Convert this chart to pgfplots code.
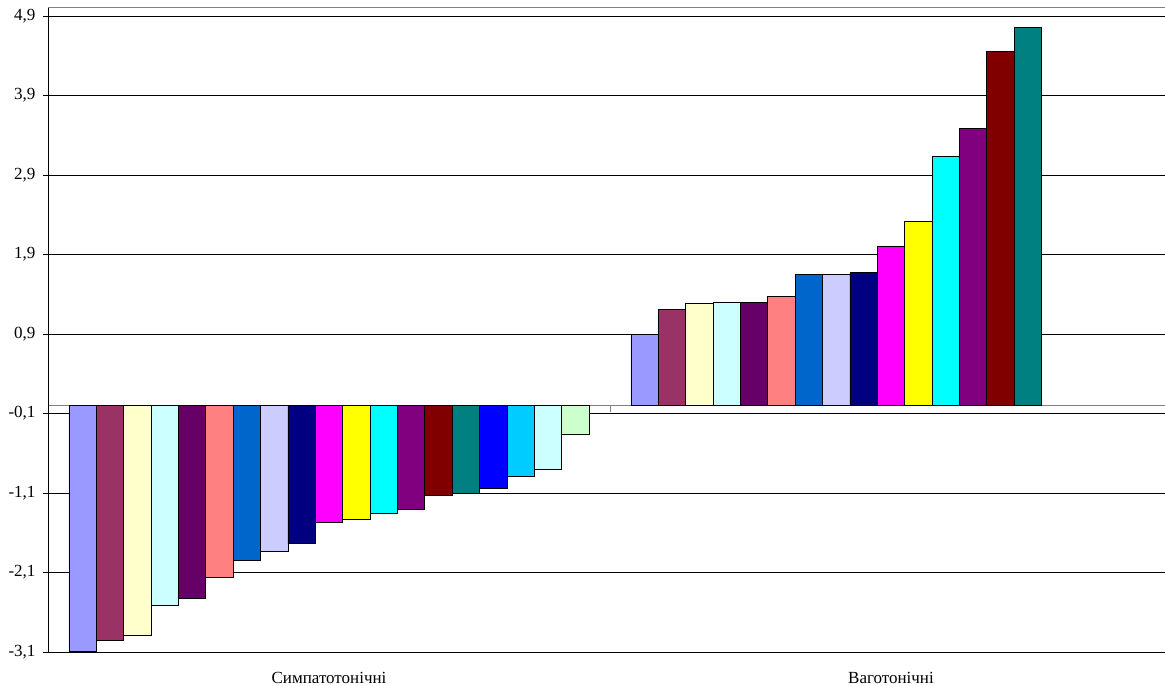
\documentclass[border=0pt]{standalone}
\usepackage{fontspec}
\setmainfont{Liberation Serif}
\usepackage{pgfplots}
\pgfplotsset{compat=1.18}
\definecolor{c1}{HTML}{9999FF}
\definecolor{c2}{HTML}{993366}
\definecolor{c3}{HTML}{FFFFCC}
\definecolor{c4}{HTML}{CCFFFF}
\definecolor{c5}{HTML}{660066}
\definecolor{c6}{HTML}{FF8080}
\definecolor{c7}{HTML}{0066CC}
\definecolor{c8}{HTML}{CCCCFF}
\definecolor{c9}{HTML}{000080}
\definecolor{c10}{HTML}{FF00FF}
\definecolor{c11}{HTML}{FFFF00}
\definecolor{c12}{HTML}{00FFFF}
\definecolor{c13}{HTML}{800080}
\definecolor{c14}{HTML}{800000}
\definecolor{c15}{HTML}{008080}
\definecolor{c16}{HTML}{0000FF}
\definecolor{c17}{HTML}{00CCFF}
\definecolor{c18}{HTML}{CCFFFF}
\definecolor{c19}{HTML}{CCFFCC}
\begin{document}
\begin{tikzpicture}
\begin{axis}[
  at={(48bp,34bp)}, anchor=south west,
  scale only axis, width=1124bp, height=644bp,
  xmin=-0.5, xmax=1.5, ymin=-3.1, ymax=5.0,
  ybar=0pt, bar width=27.37bp,
  axis line style={draw=none},
  xtick={0,1}, xticklabels={Симпатотонічні,Ваготонічні},
  xtick style={draw=none},
  xticklabel style={yshift=-12bp},
  ytick={-3.1,-2.1,-1.1,-0.1,0.9,1.9,2.9,3.9,4.9},
  yticklabels={{-3,1},{-2,1},{-1,1},{-0,1},{0,9},{1,9},{2,9},{3,9},{4,9}},
  ytick pos=left, tick align=outside, major tick length=5bp,
  ytick style={black, line width=0.8bp},
  yticklabel style={xshift=-4bp},
  tick label style={font=\fontsize{17bp}{20bp}\selectfont, text=black},
  ymajorgrids, grid style={black, line width=0.8bp},
  extra y ticks={0}, extra y tick labels={},
  extra y tick style={grid style={draw=gray, line width=1bp}, major tick length=0pt},
  every axis plot/.append style={draw=black, line width=0.8bp},
  clip=false,
]
\addplot[fill=c1]  coordinates {(0,-3.09) (1,0.89)};
\addplot[fill=c2]  coordinates {(0,-2.96) (1,1.21)};
\addplot[fill=c3]  coordinates {(0,-2.89) (1,1.29)};
\addplot[fill=c4]  coordinates {(0,-2.52) (1,1.30)};
\addplot[fill=c5]  coordinates {(0,-2.42) (1,1.30)};
\addplot[fill=c6]  coordinates {(0,-2.16) (1,1.37)};
\addplot[fill=c7]  coordinates {(0,-1.95) (1,1.65)};
\addplot[fill=c8]  coordinates {(0,-1.84) (1,1.65)};
\addplot[fill=c9]  coordinates {(0,-1.74) (1,1.67)};
\addplot[fill=c10] coordinates {(0,-1.47) (1,2.00)};
\addplot[fill=c11] coordinates {(0,-1.43) (1,2.31)};
\addplot[fill=c12] coordinates {(0,-1.36) (1,3.13)};
\addplot[fill=c13] coordinates {(0,-1.31) (1,3.48)};
\addplot[fill=c14] coordinates {(0,-1.13) (1,4.45)};
\addplot[fill=c15] coordinates {(0,-1.10) (1,4.75)};
\addplot[fill=c16] coordinates {(0,-1.04)};
\addplot[fill=c17] coordinates {(0,-0.89)};
\addplot[fill=c18] coordinates {(0,-0.80)};
\addplot[fill=c19] coordinates {(0,-0.36)};
\draw[black, line width=0.8bp] (rel axis cs:0,0) -- (rel axis cs:0,1);
\draw[gray, line width=1bp] (rel axis cs:0,1) -- (rel axis cs:1,1);
\draw[gray, line width=1bp] (axis cs:0.5,0) -- ++(0bp,-6bp);
\end{axis}
\pgfresetboundingbox
\path (0,0) rectangle (1165bp,686bp);
\end{tikzpicture}
\end{document}
